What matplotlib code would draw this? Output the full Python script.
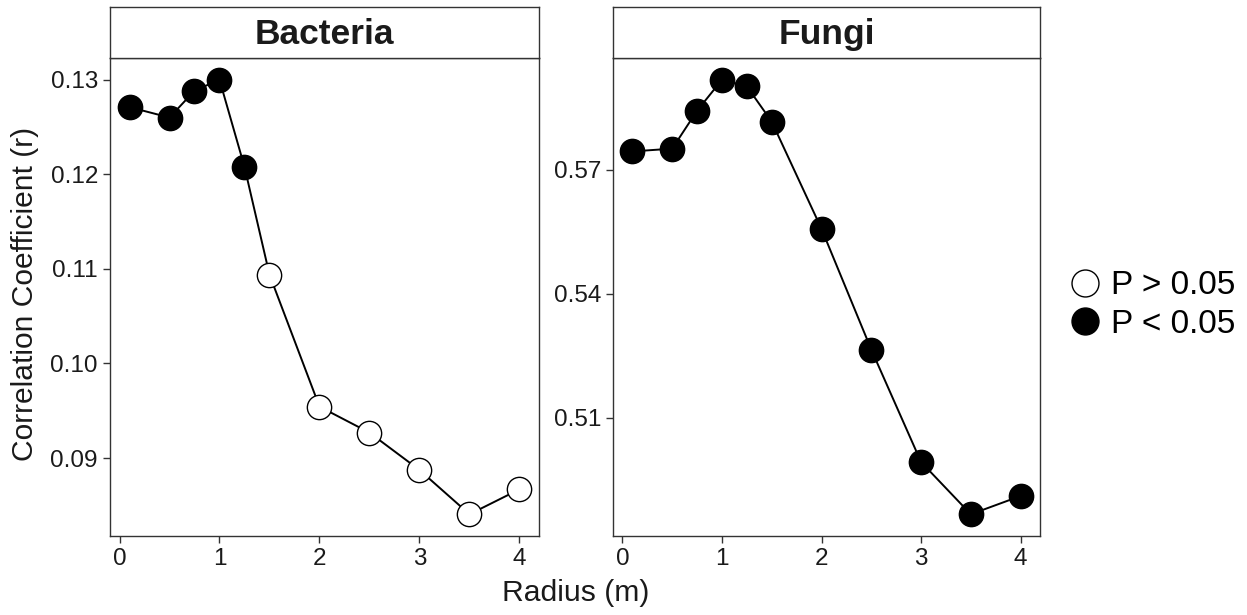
import matplotlib
matplotlib.use("Agg")
import matplotlib.pyplot as plt
from matplotlib.lines import Line2D

plt.rcParams['font.family'] = ['Liberation Sans', 'DejaVu Sans']

radius = [0.1, 0.5, 0.75, 1.0, 1.25, 1.5, 2.0, 2.5, 3.0, 3.5, 4.0]
bacteria_r = [0.1271, 0.1260, 0.12884, 0.1300, 0.12078, 0.10938,
              0.09543, 0.09268, 0.08873, 0.08405, 0.08669]
bacteria_sig = [True, True, True, True, True, False, False, False, False, False, False]
fungi_r = [0.5744, 0.57507, 0.58425, 0.59174, 0.59012, 0.58159,
           0.55567, 0.52647, 0.49928, 0.48664, 0.49106]
fungi_sig = [True] * 11
panels = ["Bacteria", "Fungi"]
bact_yticks = [0.09, 0.10, 0.11, 0.12, 0.13]
fungi_yticks = [0.51, 0.54, 0.57]
x_ticks = [0, 1, 2, 3, 4]
legend_labels = ["P > 0.05", "P < 0.05"]

W, H = 1247, 615
fig = plt.figure(figsize=(W / 100, H / 100), dpi=100)
fig.patch.set_facecolor('white')

def rect(x0, y0, x1, y1):
    return [x0 / W, 1 - y1 / H, (x1 - x0) / W, (y1 - y0) / H]

border = '#333333'
txt = '#1a1a1a'

def expand(vals, f=0.05):
    lo, hi = min(vals), max(vals)
    d = (hi - lo) * f
    return lo - d, hi + d

panel_px = [(110, 539), (613, 1040)]
top, bottom, strip_top = 58, 536, 7
datasets = [(bacteria_r, bacteria_sig, bact_yticks, "{:.2f}"),
            (fungi_r, fungi_sig, fungi_yticks, "{:.2f}")]

for (x0, x1), name, (vals, sig, yt, fmt) in zip(panel_px, panels, datasets):
    ax = fig.add_axes(rect(x0, top, x1, bottom))
    ax.plot(radius, vals, color='black', lw=1.4, zorder=2)
    for xv, yv, s in zip(radius, vals, sig):
        ax.plot([xv], [yv], marker='o', ms=17.5, mfc='black' if s else 'white',
                mec='black', mew=1.0, ls='none', zorder=3)
    ax.set_xlim(*expand(radius))
    ax.set_ylim(*expand(vals))
    ax.set_xticks(x_ticks)
    ax.set_xticklabels([str(t) for t in x_ticks])
    ax.set_yticks(yt)
    ax.set_yticklabels([fmt.format(t) for t in yt])
    ax.tick_params(axis='both', length=5.2, width=1.0, color=border,
                   labelsize=17.5, labelcolor=txt, pad=3.5)
    for sp in ax.spines.values():
        sp.set_color(border)
        sp.set_linewidth(1.0)
    # strip
    sax = fig.add_axes(rect(x0, strip_top, x1, top))
    sax.set_xticks([]); sax.set_yticks([])
    for sp in sax.spines.values():
        sp.set_color(border)
        sp.set_linewidth(1.0)
    sax.text(0.5, 0.47, name, ha='center', va='center', fontsize=25.5,
             fontweight='bold', color=txt, transform=sax.transAxes)

fig.text(576 / W, 1 - 593 / H, "Radius (m)", ha='center', va='center',
         fontsize=21.7, color=txt)
fig.text(25 / W, 1 - 294 / H, "Correlation Coefficient (r)", ha='center',
         va='center', rotation=90, fontsize=21.6, color=txt)

handles = [Line2D([], [], marker='o', ls='none', ms=19.4, mfc='white', mec='black', mew=1.0),
           Line2D([], [], marker='o', ls='none', ms=19.4, mfc='black', mec='black', mew=1.0)]
fig.legend(handles, legend_labels, loc='center left',
           bbox_to_anchor=(1068 / W, 1 - 305 / H), frameon=False,
           fontsize=24, handletextpad=0.3, labelspacing=0.22,
           handlelength=1.0, borderaxespad=0, borderpad=0)

fig.savefig("out.png", dpi=100)
